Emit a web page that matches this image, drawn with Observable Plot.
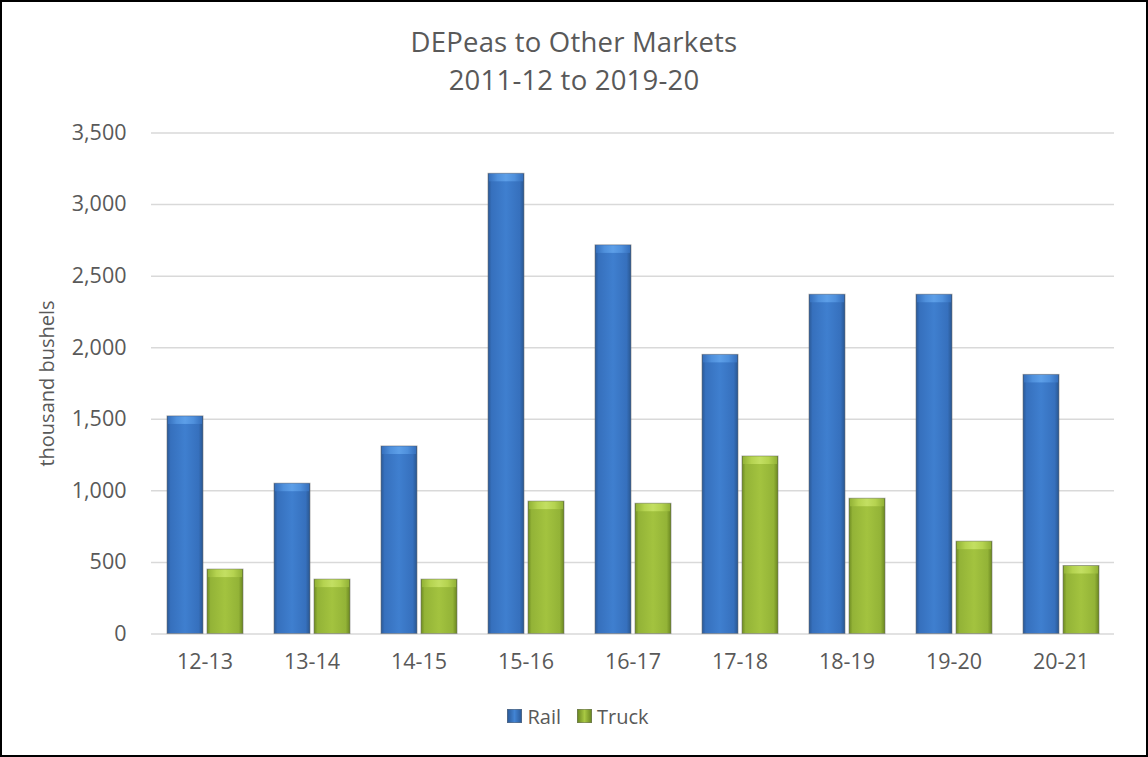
<!DOCTYPE html>
<html>
<head>
<meta charset="utf-8">
<script src="https://cdn.jsdelivr.net/npm/d3@7"></script>
<script src="https://cdn.jsdelivr.net/npm/@observablehq/plot@0.6"></script>
<style>
  html, body { margin: 0; padding: 0; background: #fff; }
  #frame { position: relative; width: 1148px; height: 757px; box-sizing: border-box; border: 2px solid #000; background: #fff; font-family: "Open Sans", sans-serif; color: #595959; overflow: hidden; }
  #title { height: 110px; box-sizing: border-box; padding-top: 21px; text-align: center; font-size: 27.5px; letter-spacing: 0.2px; line-height: 38px; color: #595959; }
  #chart svg { display: block; }
  #legend { height: 48px; display: flex; align-items: center; justify-content: center; padding-left: 8px; font-size: 20px; color: #595959; }
  .sw { width: 15px; height: 14px; margin-right: 5px; box-sizing: border-box; border: 1px solid rgba(110,110,110,0.5); }
  .item { display: flex; align-items: center; margin: 0 8px; }
</style>
</head>
<body>
<div id="frame">
  <div id="title"><div>DEPeas to Other Markets</div><div>2011-12 to 2019-20</div></div>
  <div id="chart"></div>
  <div id="legend">
    <div class="item"><div class="sw" style="background: linear-gradient(to right, #2c5d9e, #4284d4 50%, #2c5d9e);"></div><span>Rail</span></div>
    <div class="item"><div class="sw" style="background: linear-gradient(to right, #6f8c23, #a8c843 50%, #6f8c23);"></div><span>Truck</span></div>
  </div>
</div>
<script>
const categories = ["12-13", "13-14", "14-15", "15-16", "16-17", "17-18", "18-19", "19-20", "20-21"];
const seriesNames = ["Rail", "Truck"];
const rail = [1520, 1050, 1310, 3215, 2715, 1950, 2370, 2370, 1810];
const truck = [450, 380, 380, 925, 910, 1240, 945, 645, 475];
const yTicks = [0, 500, 1000, 1500, 2000, 2500, 3000, 3500];
const yLabel = "thousand bushels";

const data = categories.flatMap((c, i) => [
  {cat: c, series: "Rail", value: rail[i]},
  {cat: c, series: "Truck", value: truck[i]}
]);
const railData = data.filter(d => d.series === "Rail");
const truckData = data.filter(d => d.series === "Truck");

const chart = Plot.plot({
  width: 1144,
  height: 580,
  marginTop: 20.5,
  marginBottom: 58.5,
  marginLeft: 145,
  marginRight: 28,
  style: {fontFamily: "Open Sans", fontSize: "21px", color: "#595959", background: "white", overflow: "visible"},
  fx: {domain: categories, padding: 0, label: null},
  x: {domain: seriesNames, paddingInner: 0.1, paddingOuter: 0.36, axis: null},
  y: {domain: [0, 3500], label: null},
  marks: [
    Plot.gridY(yTicks, {stroke: "#d9d9d9", strokeOpacity: 1, strokeWidth: 1.5}),
    Plot.axisY(yTicks, {tickSize: 0, tickPadding: 25, tickFormat: d3.format(","), label: null, fill: "#595959", fontSize: 21.5}),
    Plot.axisFx({anchor: "bottom", tickSize: 0, tickPadding: 20, label: null, fill: "#595959", fontSize: 21.5}),
    Plot.barY(railData, {fx: "cat", x: "series", y: "value", fill: "url(#gRail)", stroke: "#6f6f6f", strokeOpacity: 0.55, strokeWidth: 1}),
    Plot.barY(truckData, {fx: "cat", x: "series", y: "value", fill: "url(#gTruck)", stroke: "#6f6f6f", strokeOpacity: 0.55, strokeWidth: 1}),
    Plot.barY(railData, {fx: "cat", x: "series", y1: "value", y2: "value", insetBottom: -8, insetLeft: 1, insetRight: 1, insetTop: 0.5, fill: "url(#gRailTop)"}),
    Plot.barY(truckData, {fx: "cat", x: "series", y1: "value", y2: "value", insetBottom: -8, insetLeft: 1, insetRight: 1, insetTop: 0.5, fill: "url(#gTruckTop)"}),
    Plot.text([{cat: categories[0]}], {fx: "cat", text: () => yLabel, frameAnchor: "left", textAnchor: "middle", lineAnchor: "middle", rotate: -90, dx: -104, fontSize: 20, fill: "#595959"})
  ]
});

const ns = "http://www.w3.org/2000/svg";
const defs = document.createElementNS(ns, "defs");
function grad(id, stops, vertical) {
  const g = document.createElementNS(ns, "linearGradient");
  g.setAttribute("id", id);
  g.setAttribute("x1", "0"); g.setAttribute("y1", "0");
  g.setAttribute("x2", vertical ? "0" : "1"); g.setAttribute("y2", vertical ? "1" : "0");
  for (const [o, c] of stops) {
    const s = document.createElementNS(ns, "stop");
    s.setAttribute("offset", o);
    s.setAttribute("stop-color", c);
    g.appendChild(s);
  }
  defs.appendChild(g);
}
grad("gRail", [[0, "#2a5895"], [0.1, "#3670bd"], [0.5, "#3f7fcf"], [0.88, "#3670bd"], [1, "#29568f"]]);
grad("gTruck", [[0, "#6d8a22"], [0.1, "#93b337"], [0.5, "#a3c33f"], [0.88, "#93b337"], [1, "#6a8620"]]);
grad("gRailTop", [[0, "#3670bd"], [0.25, "#4f90dc"], [0.5, "#5d9fe8"], [0.75, "#4f90dc"], [1, "#3670bd"]]);
grad("gTruckTop", [[0, "#93b337"], [0.25, "#b5d350"], [0.5, "#c3df62"], [0.75, "#b5d350"], [1, "#93b337"]]);
chart.insertBefore(defs, chart.firstChild);

document.getElementById("chart").appendChild(chart);
</script>
</body>
</html>
